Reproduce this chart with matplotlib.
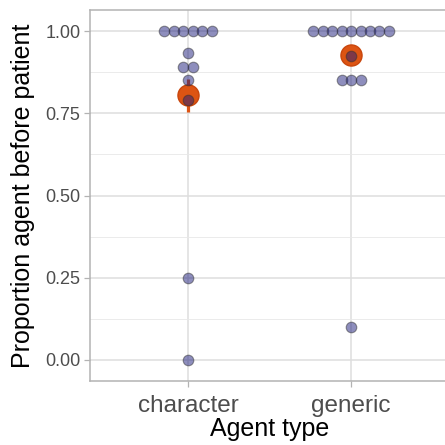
import numpy as np
import matplotlib
matplotlib.use("Agg")
import matplotlib.pyplot as plt

# data
agent_types = ["character", "generic"]
character_props = [1.0, 1.0, 1.0, 1.0, 1.0, 1.0, 0.933, 0.89, 0.89, 0.85, 0.79, 0.25, 0.0]
generic_props = [1.0, 1.0, 1.0, 1.0, 1.0, 1.0, 1.0, 1.0, 1.0, 0.923, 0.85, 0.85, 0.85, 0.1]
group_means = [0.805, 0.927]
ci_low = [0.755, 0.897]
ci_high = [0.854, 0.957]

y_ticks = [0.0, 0.25, 0.5, 0.75, 1.0]
y_ticklabels = ["0.00", "0.25", "0.50", "0.75", "1.00"]

plt.rcParams["font.family"] = ["Liberation Sans", "DejaVu Sans"]

fig = plt.figure(figsize=(4.45, 4.45), dpi=100)
ax = fig.add_axes([90 / 445, 64 / 445, 359 / 445, 371 / 445])

dot_face = (30 / 255, 30 / 255, 125 / 255)
dot_edge = "#303030"
mean_col = "#DD5413"
step = 0.058  # horizontal spacing between stacked dots

for i, vals in enumerate([character_props, generic_props]):
    xc = i + 1
    # mean and interval
    ax.vlines(xc, ci_low[i], ci_high[i], color=mean_col, lw=2.3, zorder=3)
    ax.scatter([xc], [group_means[i]], s=230, color=mean_col, edgecolor="#C9460C",
               linewidth=1.0, zorder=4)
    # centred rows of dots for repeated values
    vals = np.array(vals)
    xs, ys = [], []
    for v in np.unique(vals):
        k = int(np.sum(vals == v))
        offs = (np.arange(k) - (k - 1) / 2) * step
        xs.extend(xc + offs)
        ys.extend([v] * k)
    ax.scatter(xs, ys, s=58, color=dot_face, edgecolor=dot_edge, linewidth=0.8,
               alpha=0.5, zorder=5)

ax.set_xlim(0.4, 2.6)
ax.set_ylim(-0.064, 1.064)
ax.set_xticks([1, 2])
ax.set_xticklabels(agent_types)
ax.set_yticks(y_ticks)
ax.set_yticklabels(y_ticklabels)
ax.set_yticks([0.125, 0.375, 0.625, 0.875], minor=True)

ax.grid(which="major", color="#dedede", lw=1.1, zorder=0)
ax.grid(which="minor", axis="y", color="#e8e8e8", lw=0.6, zorder=0)
ax.set_axisbelow(True)

for sp in ax.spines.values():
    sp.set_color("#b3b3b3")
    sp.set_linewidth(1.1)

ax.tick_params(axis="both", which="major", color="#b3b3b3", length=4, width=0.9)
ax.tick_params(axis="both", which="minor", length=0)
ax.tick_params(axis="x", labelsize=17.5, labelcolor="#4d4d4d", pad=6)
ax.tick_params(axis="y", labelsize=13, labelcolor="#4d4d4d", pad=3)

ax.set_xlabel("Agent type", fontsize=18, labelpad=0)
ax.set_ylabel("Proportion agent before patient", fontsize=18, labelpad=7)

fig.savefig("out.png", dpi=100)
